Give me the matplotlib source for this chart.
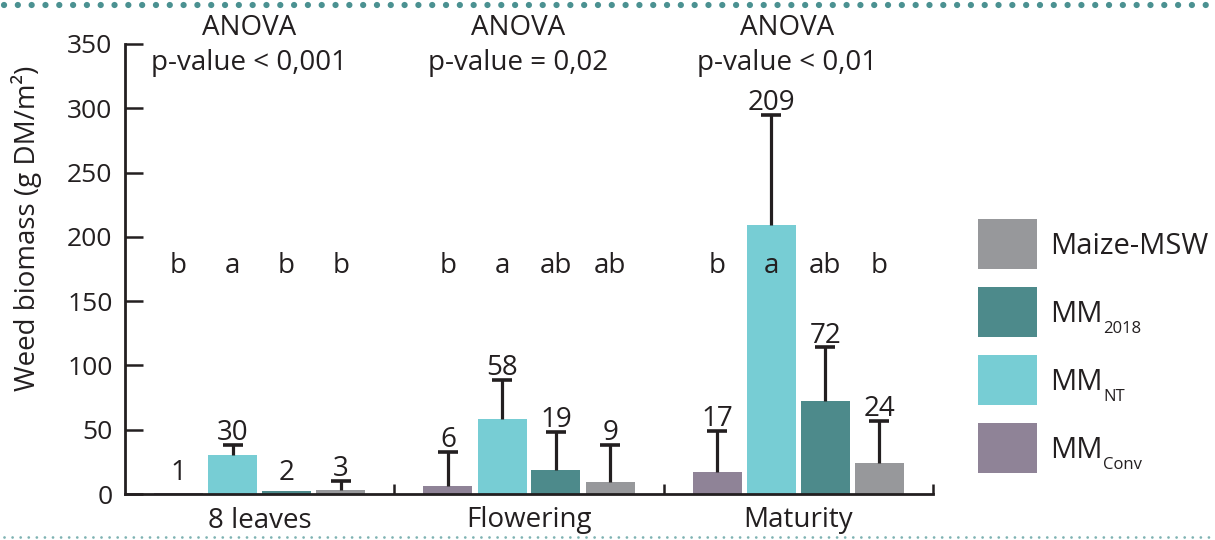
import matplotlib
matplotlib.use("Agg")
import matplotlib.pyplot as plt
from matplotlib.lines import Line2D
from matplotlib.patches import Rectangle
import numpy as np

plt.rcParams['font.family'] = ['Open Sans', 'DejaVu Sans']

stages = ["8 leaves", "Flowering", "Maturity"]
treat_main = ["MM", "MM", "MM", "Maize-MSW"]
treat_sub = ["Conv", "NT", "2018", ""]
colors = ["#8f8397", "#77cdd4", "#4d8a8b", "#97989b"]
values = {
    "MMConv": [1, 6, 17],
    "MMNT": [30, 58, 209],
    "MM2018": [2, 19, 72],
    "MaizeMSW": [3, 9, 24],
}
errors = {
    "MMConv": [0, 27, 32],
    "MMNT": [8, 31, 86],
    "MM2018": [0, 29, 42],
    "MaizeMSW": [7, 29, 33],
}
letters = {
    "MMConv": ["b", "b", "b"],
    "MMNT": ["a", "a", "a"],
    "MM2018": ["b", "ab", "ab"],
    "MaizeMSW": ["b", "ab", "b"],
}
anova = ["p-value < 0,001", "p-value = 0,02", "p-value < 0,01"]
keys = ["MMConv", "MMNT", "MM2018", "MaizeMSW"]

W, H = 1215, 540
fig = plt.figure(figsize=(12.15, 5.4), dpi=100)
ax = fig.add_axes([125/W, 46/H, (933-125)/W, (494-44)/H])

x = np.arange(len(stages))
offsets = [-0.301, -0.1, 0.1, 0.301]
width = 0.182
dark = "#231f20"
fs = 20

for k, key, off, col in zip(range(4), keys, offsets, colors):
    vals = values[key]
    errs = errors[key]
    ax.bar(x + off, vals, width=width, color=col, zorder=2)
    for i in range(len(stages)):
        if errs[i] > 0:
            _, caps, _ = ax.errorbar(x[i] + off, vals[i], yerr=[[0], [errs[i]]], fmt='none',
                                     ecolor=dark, elinewidth=2.3, capsize=7.5, capthick=2.6, zorder=3)
            caps[0].set_visible(False)
        top = max(vals[i] + errs[i], 7)
        ax.annotate(str(vals[i]), (x[i] + off, top), xytext=(0, 3.5), textcoords='offset points',
                    ha='center', va='baseline', fontsize=fs, color=dark)
        ax.text(x[i] + off, 172, letters[key][i], ha='center', va='baseline', fontsize=fs, color=dark)

for i in range(len(stages)):
    ax.text(x[i] - 0.04, 357, "ANOVA", ha='center', va='baseline', fontsize=fs, color=dark, clip_on=False)
    ax.text(x[i] - 0.04, 330, anova[i], ha='center', va='baseline', fontsize=fs, color=dark, clip_on=False)

ax.set_xlim(-0.5, 2.5)
ax.set_ylim(0, 350)
ax.set_yticks(np.arange(0, 351, 50))
ax.tick_params(axis='y', direction='in', length=13, width=1.8, labelsize=19, pad=9, colors=dark)
ax.set_xticks(x)
ax.set_xticklabels(stages, fontsize=fs, color=dark)
ax.tick_params(axis='x', which='major', length=0, pad=9)
ax.set_xticks([0.5, 1.5, 2.5], minor=True)
ax.tick_params(axis='x', which='minor', direction='in', length=7.5, width=1.8, colors=dark)
for s in ['top', 'right']:
    ax.spines[s].set_visible(False)
for s in ['left', 'bottom']:
    ax.spines[s].set_linewidth(2.0)
    ax.spines[s].set_color(dark)
ax.set_ylabel("Weed biomass (g DM/m²)", fontsize=fs, color=dark)
ax.yaxis.set_label_coords(-0.103, 0.59)

# legend (top to bottom: Maize-MSW, MM2018, MMNT, MMConv)
renderer = fig.canvas.get_renderer()
for j, idx in enumerate([3, 2, 1, 0]):
    top_px = 219 + j * 68
    fig.add_artist(Rectangle((978/W, 1 - (top_px + 50)/H), 59/W, 50/H,
                             transform=fig.transFigure, facecolor=colors[idx], edgecolor='none'))
    base_px = top_px + 35
    t = fig.text(1050/W, 1 - base_px/H, treat_main[idx], ha='left', va='baseline',
                 fontsize=fs + 1, color=dark)
    if treat_sub[idx]:
        bb = t.get_window_extent(renderer)
        fig.text(bb.x1/W + 1/W, 1 - (base_px + 11)/H, treat_sub[idx], ha='left', va='baseline',
                 fontsize=12, color=dark)

fig.add_artist(Line2D([0.003, 1.0], [1 - 5/H] * 2, transform=fig.transFigure,
                      color="#4b9191", linewidth=4.5, linestyle=(0, (0.01, 2.2)),
                      dash_capstyle='round'))
fig.add_artist(Line2D([0.003, 1.0], [1 - 537/H] * 2, transform=fig.transFigure,
                      color="#7fb3b3", linewidth=2.0, linestyle=(0, (0.01, 2.9)),
                      dash_capstyle='round'))

fig.savefig("out.png", dpi=100)
